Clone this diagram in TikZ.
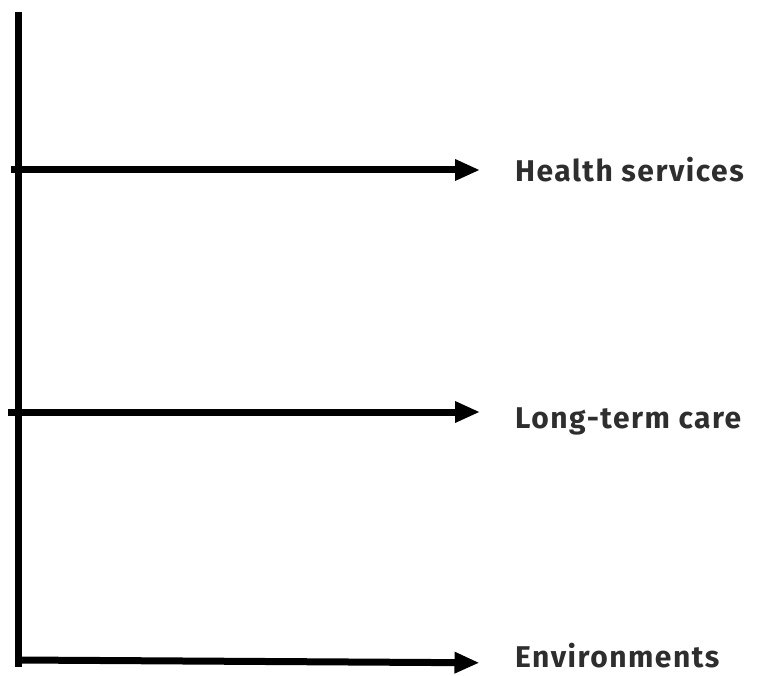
\documentclass[tikz,border=0pt]{standalone}
\usepackage{fontspec}
\setmainfont{Fira Sans}
\newfontfamily\labelfont[LetterSpace=5]{Fira Sans}
\usetikzlibrary{arrows.meta,positioning}
\tikzset{
  spine/.style={line width=7pt, draw=black},
  target/.style={anchor=base west, inner sep=0pt, font=\labelfont\fontsize{30}{36}\selectfont\bfseries, text=black!82},
  flow/.style={-{Triangle[length=25pt, width=20pt]}, line width=7pt, draw=black}
}
\begin{document}
\begin{tikzpicture}[x=1pt, y=-1pt]
  \useasboundingbox (0,0) rectangle (757,676);

  % vertical spine
  \coordinate (top) at (18,12);
  \coordinate (bottom) at (18,667);
  \draw[spine] (top) -- (bottom);

  % targets
  \node[target] (health) at (515,182) {Health services};
  \node[target] (care) at (515,428) {Long-term care};
  \node[target] (env) at (515,667) {Environments};

  % branches off the spine
  \coordinate (b1) at (11,170);
  \coordinate (b2) at (8,412);
  \coordinate (b3) at (18,660);
  \draw[flow, shorten >=35pt] (b1) -- (health.west |- b1);
  \draw[flow, shorten >=35pt] (b2) -- (care.west |- b2);
  \draw[flow, shorten >=35.5pt] (b3) -- ([yshift=2pt]env.base west |- 0,665);
\end{tikzpicture}
\end{document}
